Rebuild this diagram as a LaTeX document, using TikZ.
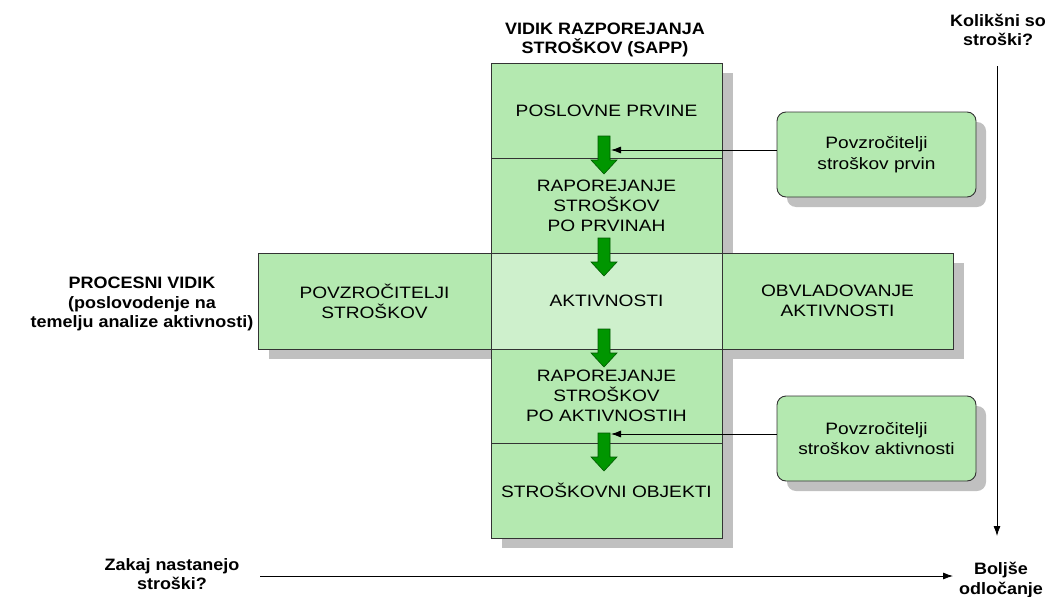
\documentclass[tikz,border=0pt]{standalone}
\usepackage{fontspec}
\setmainfont{Liberation Sans}
\newfontfamily\boxfont[FakeStretch=1.16]{Liberation Sans}
\newfontfamily\headfont[FakeStretch=1.09]{Liberation Sans}
\usetikzlibrary{arrows.meta,shadows}

\definecolor{cellgreen}{RGB}{180,233,176}
\definecolor{cellpale}{RGB}{206,240,204}
\definecolor{arrowgreen}{RGB}{0,150,0}
\definecolor{arrowdark}{RGB}{0,90,0}
\definecolor{shadegray}{RGB}{192,192,192}

% fat green arrow, top centre at (604,#1)
\newcommand{\greenarrow}[1]{%
  \filldraw[fatarrow] (598,#1) -- (610,#1) -- (610,#1+24) -- (617,#1+24)
    -- (604,#1+38) -- (591,#1+24) -- (598,#1+24) -- cycle;}

\begin{document}
\begin{tikzpicture}[x=1pt,y=-1pt,
  cell/.style={draw=black!80, line width=0.9pt, fill=cellgreen, inner sep=0pt,
    minimum width=231pt, minimum height=95pt, align=center,
    font=\boxfont\fontsize{16.5}{20}\selectfont},
  driver/.style={draw=black!80, line width=0.9pt, fill=cellgreen, rounded corners=9pt,
    minimum width=199pt, minimum height=85pt, align=center,
    font=\boxfont\fontsize{16.5}{20.5}\selectfont,
    drop shadow={shadow xshift=10pt, shadow yshift=-10pt, opacity=1, fill=shadegray}},
  head/.style={align=center, font=\headfont\bfseries\fontsize{16.5}{19.5}\selectfont},
  fatarrow/.style={fill=arrowgreen, draw=arrowdark, line width=0.6pt},
  thinarrow/.style={line width=0.8pt, -{Latex[length=10pt,width=7pt]}}]

\useasboundingbox (0,0) rectangle (1058,597);

%% shadows of the cross
\fill [shadegray] (502,73) rectangle (733,548);
\fill [shadegray] (269,263) rectangle (964,359);

%% vertical column (SAPP)
\node [cell] (prvine) at (606.5,110.5) {POSLOVNE PRVINE};
\node [cell] (razprvine) at (606.5,205.5) {RAPOREJANJE\\STROŠKOV\\PO PRVINAH};
\node [cell, minimum height=94pt] (razakt) at (606.5,396) {RAPOREJANJE\\STROŠKOV\\PO AKTIVNOSTIH};
\node [cell] (objekti) at (606.5,490.5) {STROŠKOVNI OBJEKTI};

%% horizontal band (process view)
\node [cell, minimum width=233pt, minimum height=96pt] (povz) at (374.5,301) {POVZROČITELJI\\STROŠKOV};
\node [cell, fill=cellpale, minimum height=96pt] (aktiv) at (606.5,301) {AKTIVNOSTI};
\node [cell, minimum height=96pt] (obvl) at (837.5,301) {OBVLADOVANJE\\AKTIVNOSTI};

%% green flow arrows
\greenarrow{136}
\greenarrow{238}
\greenarrow{329}
\greenarrow{433}

%% cost drivers
\node [driver] (drvprvin) at (876.5,154.5) {Povzročitelji\\stroškov prvin};
\node [driver] (drvakt) at (876.5,438.5) {Povzročitelji\\stroškov aktivnosti};
\coordinate (tprvin) at (611,150);
\coordinate (takt) at (611,434);
\draw [thinarrow] (drvprvin.west |- tprvin) -- (tprvin);
\draw [thinarrow] (drvakt.west |- takt) -- (takt);

%% headings
\node [head] (sapp) at (605,40) {VIDIK RAZPOREJANJA\\STROŠKOV (SAPP)};
\node [head] (proces) at (142,304) {PROCESNI VIDIK\\(poslovodenje na\\temelju analize aktivnosti)};

%% axes
\node [head] (koliko) at (998,30) {Kolikšni so\\stroški?};
\node [head] (zakaj) at (172,574) {Zakaj nastanejo\\stroški?};
\node [head] (boljse) at (1001,580) {Boljše\\odločanje};
\coordinate (vstart) at (997,66);
\coordinate (vend) at (997,536);
\coordinate (hstart) at (260,576);
\coordinate (hend) at (953,576);
\draw [thinarrow] (vstart) -- (vend);
\draw [thinarrow] (hstart) -- (hend);

\end{tikzpicture}
\end{document}
